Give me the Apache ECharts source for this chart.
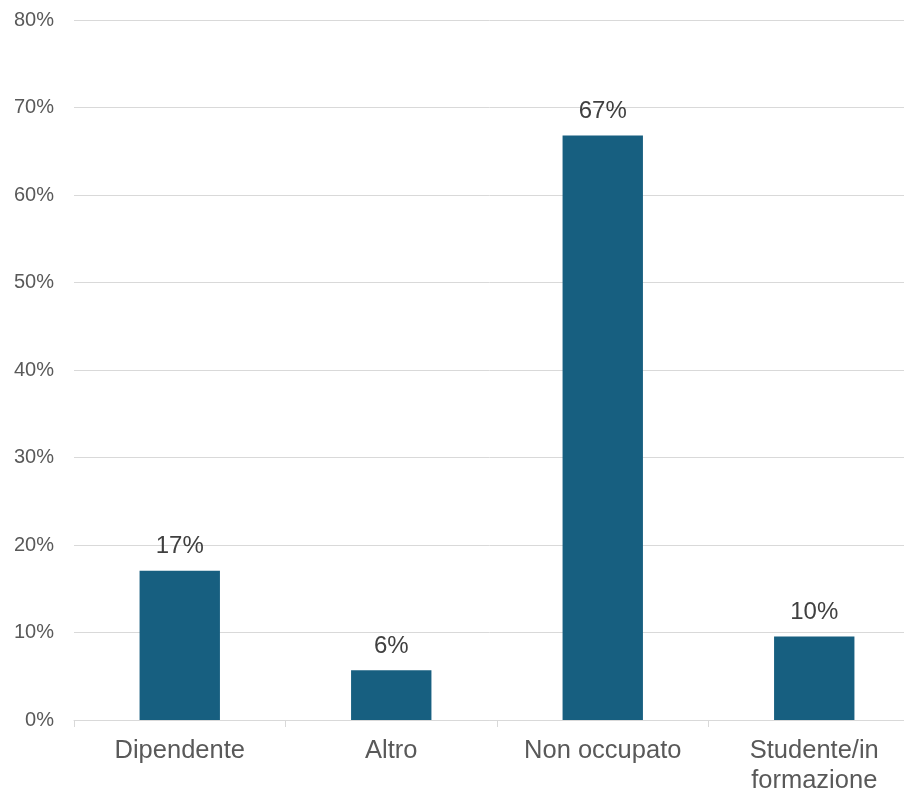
<!DOCTYPE html>
<html>
<head>
<meta charset="utf-8">
<script src="https://cdn.jsdelivr.net/npm/echarts@6/dist/echarts.min.js"></script>
<style>
html,body{margin:0;padding:0;background:#fff;}
#chart{width:904px;height:790px;}
</style>
</head>
<body>
<div id="chart"></div>
<script>
const categories = ['Dipendente', 'Altro', 'Non occupato', 'Studente/in\nformazione'];
const values = [17.05, 5.7, 66.8, 9.55];
const yMin = 0, yMax = 80, yStep = 10;

const chart = echarts.init(document.getElementById('chart'), null, {renderer: 'canvas'});
chart.setOption({
  animation: false,
  backgroundColor: '#ffffff',
  textStyle: {fontFamily: '"Liberation Sans", Arial, sans-serif'},
  grid: {left: 74, top: 20, right: -16, bottom: 70, containLabel: false, outerBoundsMode: 'none'},
  xAxis: {
    type: 'category',
    data: categories,
    axisLine: {show: true, lineStyle: {color: '#d9d9d9', width: 1}},
    axisTick: {show: true, length: 7, lineStyle: {color: '#d9d9d9'}},
    axisLabel: {color: '#595959', fontSize: 25.5, margin: 16, lineHeight: 30, fontFamily: '"Liberation Sans", Arial, sans-serif'}
  },
  yAxis: {
    type: 'value',
    min: yMin, max: yMax, interval: yStep,
    axisLine: {show: false},
    axisTick: {show: false},
    splitLine: {show: true, lineStyle: {color: '#d9d9d9', width: 1}},
    axisLabel: {color: '#595959', fontSize: 20, margin: 20, padding: [6, 0, 0, 0], formatter: '{value}%', fontFamily: '"Liberation Sans", Arial, sans-serif'}
  },
  series: [{
    type: 'bar',
    data: values,
    barWidth: '38%',
    itemStyle: {color: '#175f80'},
    label: {
      show: true,
      position: 'top',
      distance: 12,
      color: '#404040',
      fontSize: 24,
      fontFamily: '"Liberation Sans", Arial, sans-serif',
      formatter: p => Math.round(p.value) + '%'
    }
  }]
});
</script>
</body>
</html>
